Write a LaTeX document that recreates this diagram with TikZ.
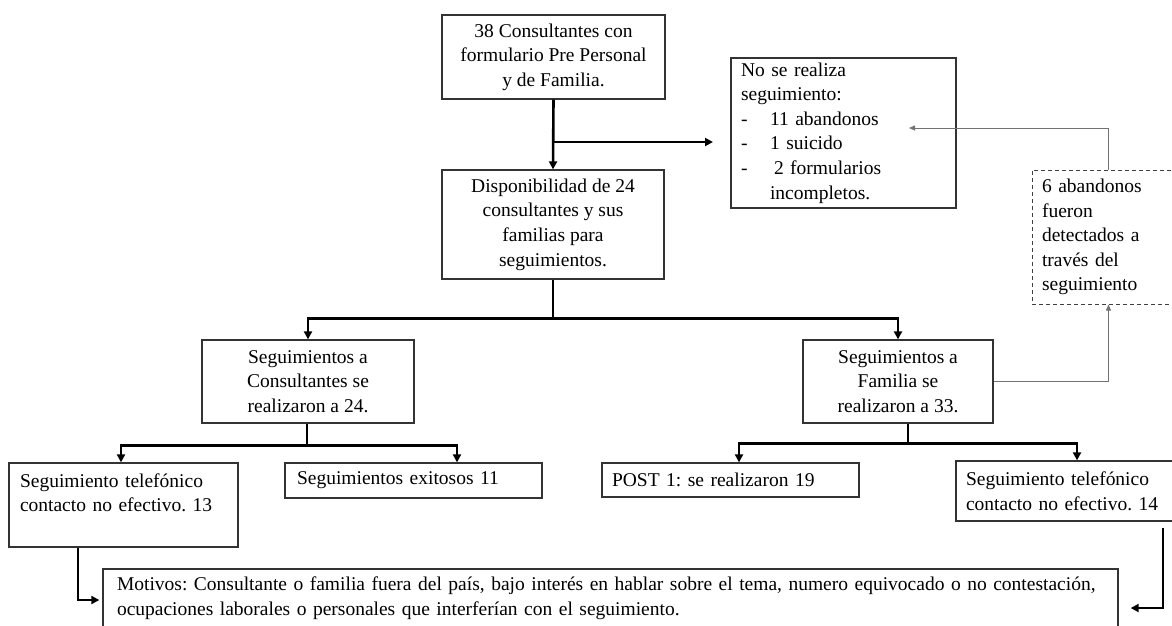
\documentclass[tikz,border=0pt]{standalone}
\usepackage{fontspec}
\setmainfont{Liberation Serif}
\usetikzlibrary{arrows.meta,calc}
\frenchspacing
\begin{document}
\begin{tikzpicture}[x=1pt,y=-1pt,
  tf/.style={font=\fontsize{19.5}{24.6}\selectfont},
  box/.style={draw=black!80, line width=1.3pt, rectangle, inner sep=0pt, tf},
  dbox/.style={draw=black!75, line width=1pt, dash pattern=on 4pt off 3pt, rectangle, inner sep=0pt, tf},
  thickarrow/.style={draw=black, line width=2.6pt, -{Triangle[length=8pt,width=8pt]}},
  thinarrow/.style={draw=black!55, line width=0.9pt, -{Triangle[length=6pt,width=5pt]}},
]
\useasboundingbox (0,0) rectangle (1172,625);

\node[box, minimum width=223pt, minimum height=84pt, align=center] (A) at (553.5,57)
  {38 Consultantes con\\formulario Pre Personal\\y de Familia.};
\node[box, minimum width=225pt, minimum height=150pt, text width=205pt, align=left] (B) at (843.5,133)
  {No se realiza\\seguimiento:\\\makebox[29pt][l]{-}11 abandonos\\\makebox[29pt][l]{-}1 suicido\\\makebox[33pt][l]{-}2 formularios\\\hspace*{29pt}incompletos.};
\node[box, minimum width=222pt, minimum height=109pt, align=center] (D) at (553,224.5)
  {Disponibilidad de 24\\consultantes y sus\\familias para\\seguimientos.};
\node[dbox, minimum width=153pt, minimum height=134pt, text width=133pt, align=left] (Det) at (1108.5,237)
  {6 abandonos\\fueron\\detectados a\\través del\\seguimiento};
\node[box, minimum width=212pt, minimum height=83pt, align=center] (SC) at (308,381.5)
  {Seguimientos a\\Consultantes se\\realizaron a 24.};
\node[box, minimum width=190pt, minimum height=83pt, align=center] (SF) at (898,381.5)
  {Seguimientos a\\Familia se\\realizaron a 33.};
\node[box, minimum width=229pt, minimum height=84pt, text width=207pt, align=left] (ST1) at (123.5,505)
  {Seguimiento telefónico\\contacto no efectivo. 13\\\mbox{}};
\node[box, minimum width=257pt, minimum height=35pt, text width=233pt, align=left] (SE) at (413.5,480.5)
  {Seguimientos exitosos 11};
\node[box, minimum width=257pt, minimum height=34pt, text width=237pt, align=left] (POST) at (730.5,480)
  {POST 1: se realizaron 19};
\node[box, minimum width=220pt, minimum height=60pt, text width=200pt, align=left] (ST2) at (1066,491)
  {Seguimiento telefónico\\contacto no efectivo. 14};
\node[box, minimum width=1015pt, minimum height=58pt, text width=987pt, align=left] (M) at (610.5,598)
  {\mbox{Motivos: Consultante o familia fuera del país, bajo interés en hablar sobre el tema, numero equivocado o no contestación,}\\\mbox{ocupaciones laborales o personales que interferían con el seguimiento.}};

\coordinate (bIn) at (713,142);
\coordinate (bIn2) at (909,128);

\draw[thickarrow] (A.south) -- (D.north);
\draw[thickarrow] (A.south |- bIn) -- (bIn);
\draw[thickarrow] (D.south) -- ++(0,39) -| (SC.north);
\draw[thickarrow] (D.south) -- ++(0,39) -| (SF.north);
\draw[thickarrow] ([xshift=-1pt]SC.south) -- ++(0,22) -| ([xshift=-2.5pt]ST1.north);
\draw[thickarrow] ([xshift=-1pt]SC.south) -- ++(0,22) -| ([xshift=43.5pt]SE.north);
\draw[thickarrow] ([xshift=10pt]SF.south) -- ++(0,20) -| ([xshift=8.5pt]POST.north);
\draw[thickarrow] ([xshift=10pt]SF.south) -- ++(0,20) -| ([xshift=11pt]ST2.north);
\draw[thinarrow] (SF.east) -| (Det.south);
\draw[thinarrow] (Det.north) |- (bIn2);
\draw[thickarrow, shorten >=3pt] ([xshift=-45.5pt]ST1.south) |- ([yshift=-2pt]M.west);
\draw[thickarrow, shorten >=12pt] ([xshift=97pt,yshift=-6pt]ST2.south) |- ([yshift=-10pt]M.east);
\end{tikzpicture}
\end{document}
